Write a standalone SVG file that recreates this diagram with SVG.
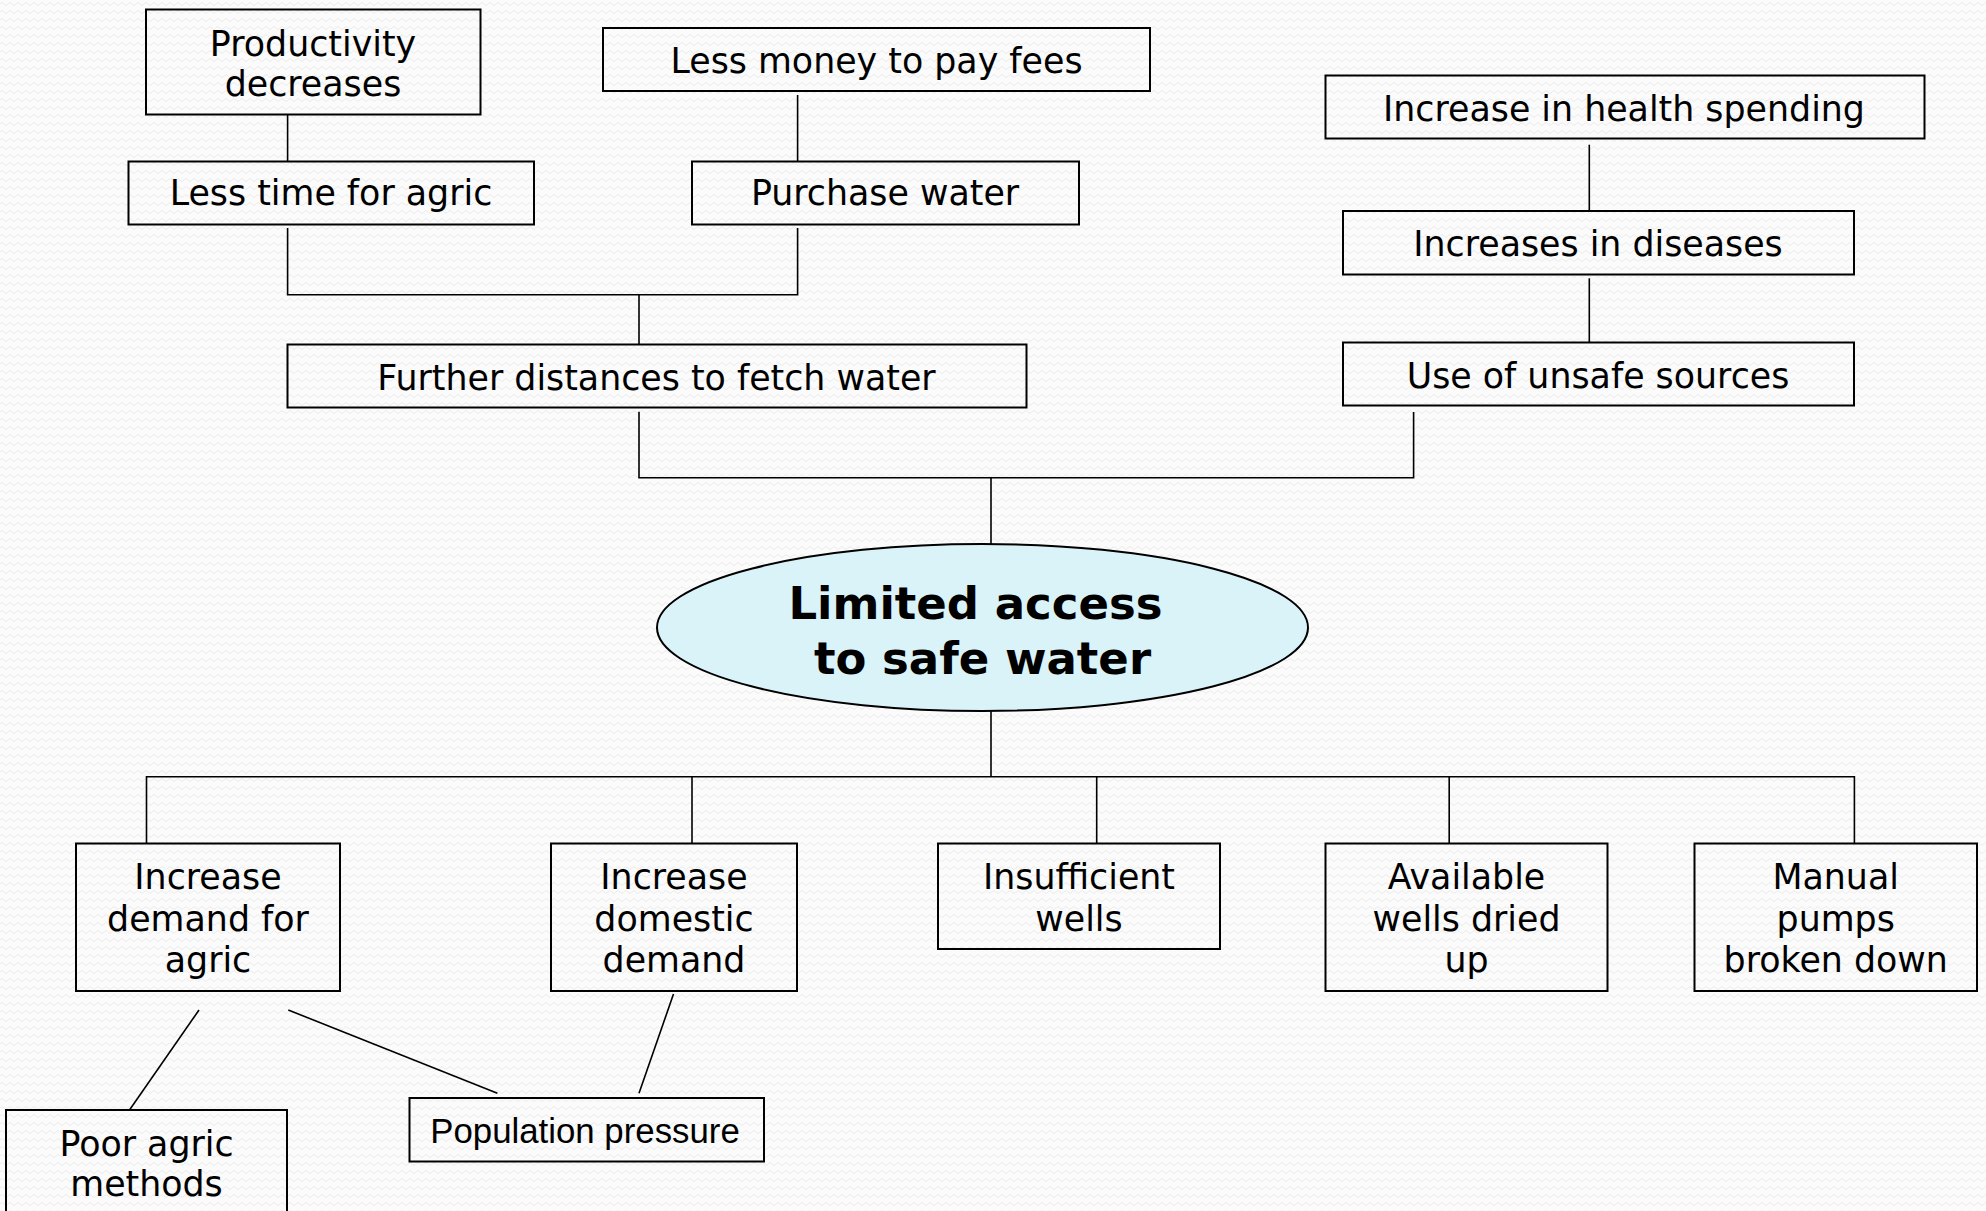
<svg xmlns="http://www.w3.org/2000/svg" width="1986" height="1211" viewBox="0 0 1986 1211">
  <defs>
    <!-- faint wavy paper texture behind everything -->
    <pattern id="paper" width="8" height="8" patternUnits="userSpaceOnUse">
      <rect width="8" height="8" fill="#fbfbfb"/>
      <path d="M0 4 Q2 1 4 4 T8 4" fill="none" stroke="#ececec" stroke-width="1"/>
    </pattern>
    <style>
      .box { fill: none; stroke: #000; stroke-width: 2; }
      .hub { fill: #daf3f8; stroke: #000; stroke-width: 2; }
      .lbl { font-family: "DejaVu Sans", Verdana, sans-serif; font-size: 34.8px; fill: #000; text-anchor: middle; }
      .arial { font-family: "Liberation Sans", Arial, sans-serif; font-size: 34.8px; fill: #000; text-anchor: middle; }
      .core { font-family: "DejaVu Sans", Verdana, sans-serif; font-size: 45px; font-weight: bold; fill: #000; text-anchor: middle; }
      .wire { fill: none; stroke: #000; stroke-width: 1.6; }
    </style>
  </defs>

  <rect width="1986" height="1211" fill="url(#paper)"/>

  <g id="connectors">
    <path class="wire" d="M287.6 114.5 V161.5"/>
    <path class="wire" d="M797.6 95 V161.5"/>
    <path class="wire" d="M287.6 228 V294.7 H797.6 V228"/>
    <path class="wire" d="M639 294.7 V344.5"/>
    <path class="wire" d="M639 411.7 V477.7 H1413.6 V412"/>
    <path class="wire" d="M1589.3 144.7 V211"/>
    <path class="wire" d="M1589.3 278.3 V342.5"/>
    <path class="wire" d="M991 477.7 V544"/>
    <path class="wire" d="M991 711 V776.7"/>
    <path class="wire" d="M146.5 843.5 V776.7 H1854.4 V843.5"/>
    <path class="wire" d="M692 776.7 V843.5"/>
    <path class="wire" d="M1096.7 776.7 V843.5"/>
    <path class="wire" d="M1449.2 776.7 V843.5"/>
    <path class="wire" d="M199 1010 L129.5 1110"/>
    <path class="wire" d="M288.3 1010 L497.4 1093.3"/>
    <path class="wire" d="M673.5 994 L639 1093.3"/>
  </g>

  <g id="productivity-decreases">
    <rect class="box" x="146" y="9.5" width="334.5" height="105"/>
    <text class="lbl" x="313" y="56">Productivity</text>
    <text class="lbl" x="313" y="96">decreases</text>
  </g>

  <g id="less-money">
    <rect class="box" x="603" y="28" width="547" height="63"/>
    <text class="lbl" x="876.5" y="73">Less money to pay fees</text>
  </g>

  <g id="less-time">
    <rect class="box" x="128.5" y="161.5" width="405.5" height="63"/>
    <text class="lbl" x="331" y="205">Less time for agric</text>
  </g>

  <g id="purchase-water">
    <rect class="box" x="692" y="161.5" width="387" height="63"/>
    <text class="lbl" x="885" y="205">Purchase water</text>
  </g>

  <g id="further-distances">
    <rect class="box" x="287.5" y="344.5" width="739" height="63"/>
    <text class="lbl" x="656.5" y="390">Further distances to fetch water</text>
  </g>

  <g id="health-spending">
    <rect class="box" x="1325.5" y="75.5" width="599" height="63"/>
    <text class="lbl" x="1624" y="121">Increase in health spending</text>
  </g>

  <g id="diseases">
    <rect class="box" x="1343" y="211" width="511" height="63.5"/>
    <text class="lbl" x="1598" y="256">Increases in diseases</text>
  </g>

  <g id="unsafe-sources">
    <rect class="box" x="1343" y="342.5" width="511" height="63"/>
    <text class="lbl" x="1598" y="387.5">Use of unsafe sources</text>
  </g>

  <g id="core-problem">
    <ellipse class="hub" cx="982.5" cy="627.5" rx="325.5" ry="83.5"/>
    <text class="core" x="975.5" y="618.5">Limited access</text>
    <text class="core" x="982.5" y="673.5">to safe water</text>
  </g>

  <g id="agric-demand">
    <rect class="box" x="76" y="843.5" width="264" height="147.5"/>
    <text class="lbl" x="208" y="889">Increase</text>
    <text class="lbl" x="208" y="931">demand for</text>
    <text class="lbl" x="208" y="972">agric</text>
  </g>

  <g id="domestic-demand">
    <rect class="box" x="551" y="843.5" width="246" height="147.5"/>
    <text class="lbl" x="674" y="889">Increase</text>
    <text class="lbl" x="674" y="931">domestic</text>
    <text class="lbl" x="674" y="972">demand</text>
  </g>

  <g id="insufficient-wells">
    <rect class="box" x="938" y="843.5" width="282" height="105.5"/>
    <text class="lbl" x="1079" y="889">Insufficient</text>
    <text class="lbl" x="1079" y="931">wells</text>
  </g>

  <g id="wells-dried">
    <rect class="box" x="1325.5" y="843.5" width="282" height="147.5"/>
    <text class="lbl" x="1466.5" y="889">Available</text>
    <text class="lbl" x="1466.5" y="931">wells dried</text>
    <text class="lbl" x="1466.5" y="972">up</text>
  </g>

  <g id="pumps-broken">
    <rect class="box" x="1694.5" y="843.5" width="282.5" height="147.5"/>
    <text class="lbl" x="1835.7" y="889">Manual</text>
    <text class="lbl" x="1835.7" y="931">pumps</text>
    <text class="lbl" x="1835.7" y="972">broken down</text>
  </g>

  <g id="poor-methods">
    <rect class="box" x="6" y="1110" width="281" height="120"/>
    <text class="lbl" x="146.5" y="1156">Poor agric</text>
    <text class="lbl" x="146.5" y="1196">methods</text>
  </g>

  <g id="population-pressure">
    <rect class="box" x="409.5" y="1098" width="354.5" height="63.5"/>
    <text class="arial" x="585" y="1143">Population pressure</text>
  </g>
</svg>
